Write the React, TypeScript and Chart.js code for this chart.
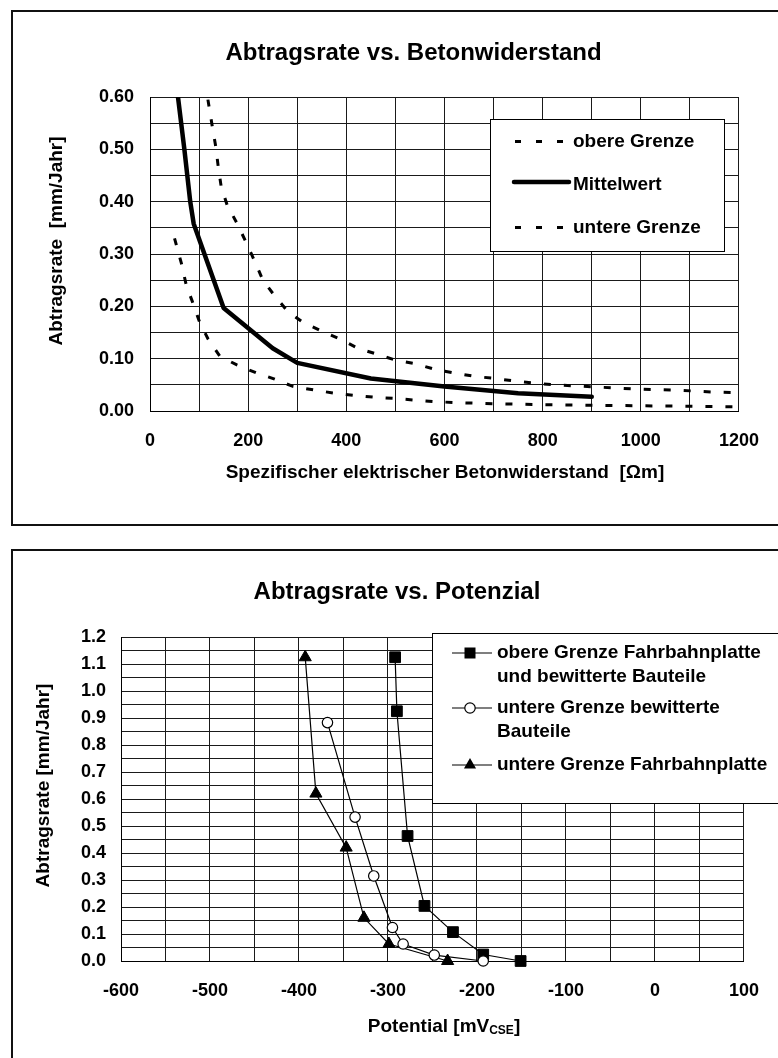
import React, { useEffect, useRef } from 'react';
import { Chart, registerables } from 'chart.js';

Chart.register(...registerables);

const FONT = '"Liberation Sans", Arial, Helvetica, sans-serif';

// ---------- Chart 1: Abtragsrate vs. Betonwiderstand ----------
const resistanceTitle = 'Abtragsrate vs. Betonwiderstand';
const resistanceXTitle = 'Spezifischer elektrischer Betonwiderstand  [Ωm]';
const resistanceYTitle = 'Abtragsrate  [mm/Jahr]';
const resistanceXTickLabels = ['0', '200', '400', '600', '800', '1000', '1200'];
const resistanceYTickLabels = ['0.00', '0.10', '0.20', '0.30', '0.40', '0.50', '0.60'];
const resistanceSeriesNames = ['obere Grenze', 'Mittelwert', 'untere Grenze'];

const upperX = [118, 127, 134, 139, 145, 157, 177, 195, 212, 230, 254, 281, 311, 349, 386, 423, 461, 501, 542, 579, 623, 663, 704, 745, 786, 822, 867, 907, 948, 989, 1030, 1070, 1111, 1151, 1200];
const upperY = [0.595, 0.543, 0.505, 0.467, 0.429, 0.394, 0.359, 0.324, 0.289, 0.25, 0.22, 0.19, 0.17, 0.153, 0.138, 0.12, 0.109, 0.097, 0.09, 0.08, 0.072, 0.066, 0.062, 0.057, 0.053, 0.05, 0.048, 0.046, 0.044, 0.042, 0.041, 0.04, 0.038, 0.036, 0.035];

const meanX = [57, 70, 82, 89, 150, 250, 300, 450, 600, 750, 900];
const meanY = [0.6, 0.5, 0.4, 0.358, 0.197, 0.12, 0.092, 0.062, 0.047, 0.034, 0.027];

const lowerX = [50, 64, 74, 86, 101, 118, 142, 177, 216, 254, 291, 335, 376, 416, 460, 500, 538, 579, 623, 700, 800, 900, 1000, 1100, 1200];
const lowerY = [0.33, 0.282, 0.24, 0.21, 0.17, 0.138, 0.105, 0.088, 0.073, 0.061, 0.047, 0.04, 0.034, 0.03, 0.026, 0.024, 0.021, 0.018, 0.016, 0.014, 0.012, 0.011, 0.01, 0.009, 0.008];

// ---------- Chart 2: Abtragsrate vs. Potenzial ----------
const potentialTitle = 'Abtragsrate vs. Potenzial';
const potentialYTitle = 'Abtragsrate [mm/Jahr]';
const potentialXTickLabels = ['-600', '-500', '-400', '-300', '-200', '-100', '0', '100'];
const potentialYTickLabels = ['0.0', '0.1', '0.2', '0.3', '0.4', '0.5', '0.6', '0.7', '0.8', '0.9', '1.0', '1.1', '1.2'];
const potentialSeriesNames = [
  ['obere Grenze Fahrbahnplatte', 'und bewitterte Bauteile'],
  ['untere Grenze bewitterte', 'Bauteile'],
  ['untere Grenze Fahrbahnplatte'],
];

const obereX = [-292, -290, -278, -259, -227, -193, -151];
const obereY = [1.125, 0.925, 0.463, 0.204, 0.107, 0.024, 0.0];

const bewitterteX = [-368, -337, -316, -295, -283, -248, -193];
const bewitterteY = [0.883, 0.533, 0.315, 0.124, 0.063, 0.022, 0.0];

const fahrbahnX = [-393, -381, -347, -327, -299, -233];
const fahrbahnY = [1.125, 0.62, 0.42, 0.16, 0.063, 0.0];

const pts = (xs: number[], ys: number[]) => xs.map((x, i) => ({ x, y: ys[i] }));

const near = (a: number, b: number) => Math.abs(a - b) < 1e-6;

const tickFont = { family: FONT, size: 18, weight: 'bold' as const };

function labelFrom(list: string[]) {
  return (v: number | string) => {
    const n = Number(v);
    const hit = list.find((s) => near(Number(s), n));
    return hit === undefined ? '' : hit;
  };
}

function drawRotated(ctx: CanvasRenderingContext2D, text: string, x: number, y: number) {
  ctx.save();
  ctx.translate(x, y);
  ctx.rotate(-Math.PI / 2);
  ctx.fillText(text, 0, 0);
  ctx.restore();
}

const topOverlay = {
  id: 'topOverlay',
  afterDraw(chart: any) {
    const ctx: CanvasRenderingContext2D = chart.ctx;
    ctx.save();
    ctx.fillStyle = '#000';
    ctx.textAlign = 'center';
    ctx.textBaseline = 'middle';
    ctx.font = `bold 24px ${FONT}`;
    ctx.fillText(resistanceTitle, 413.5, 53);
    ctx.font = `bold 19px ${FONT}`;
    ctx.fillText(resistanceXTitle, 445, 473);
    drawRotated(ctx, resistanceYTitle, 57, 241);

    // legend box
    ctx.fillStyle = '#fff';
    ctx.fillRect(490, 119, 234, 132);
    ctx.strokeStyle = '#000';
    ctx.lineWidth = 1;
    ctx.strokeRect(490.5, 119.5, 234, 132);

    const rows = [141.5, 182, 227.5];
    ctx.fillStyle = '#000';
    // dashed samples
    [rows[0], rows[2]].forEach((y) => {
      [515, 536, 557].forEach((x) => ctx.fillRect(x, y - 1.5, 6, 3));
    });
    // solid sample
    ctx.beginPath();
    ctx.lineWidth = 4.5;
    ctx.lineCap = 'round';
    ctx.moveTo(514, rows[1]);
    ctx.lineTo(569, rows[1]);
    ctx.stroke();

    ctx.font = `bold 19px ${FONT}`;
    ctx.textAlign = 'left';
    ctx.fillText(resistanceSeriesNames[0], 573, 142);
    ctx.fillText(resistanceSeriesNames[1], 573, 184.5);
    ctx.fillText(resistanceSeriesNames[2], 573, 228);
    ctx.restore();
  },
};

const bottomOverlay = {
  id: 'bottomOverlay',
  afterDraw(chart: any) {
    const ctx: CanvasRenderingContext2D = chart.ctx;
    const oy = 538;
    ctx.save();
    ctx.fillStyle = '#000';
    ctx.textAlign = 'center';
    ctx.textBaseline = 'middle';
    ctx.font = `bold 24px ${FONT}`;
    ctx.fillText(potentialTitle, 397, 592.5 - oy);
    ctx.font = `bold 19px ${FONT}`;
    drawRotated(ctx, potentialYTitle, 44, 785.5 - oy);

    // x title with subscript
    const main = 'Potential [mV';
    const sub = 'CSE';
    const end = ']';
    ctx.font = `bold 19px ${FONT}`;
    const wMain = ctx.measureText(main).width;
    const wEnd = ctx.measureText(end).width;
    ctx.font = `bold 12px ${FONT}`;
    const wSub = ctx.measureText(sub).width;
    const total = wMain + wSub + wEnd;
    let x = 444 - total / 2;
    const y = 1027 - oy;
    ctx.textAlign = 'left';
    ctx.font = `bold 19px ${FONT}`;
    ctx.fillText(main, x, y);
    x += wMain;
    ctx.font = `bold 12px ${FONT}`;
    ctx.fillText(sub, x, y + 4);
    x += wSub;
    ctx.font = `bold 19px ${FONT}`;
    ctx.fillText(end, x, y);

    // legend box
    ctx.fillStyle = '#fff';
    ctx.fillRect(432, 633 - oy, 400, 170);
    ctx.strokeStyle = '#000';
    ctx.lineWidth = 1;
    ctx.strokeRect(432.5, 633.5 - oy, 400, 170);

    const rowY = [653 - oy, 708 - oy, 765 - oy];
    ctx.lineWidth = 1.2;
    rowY.forEach((ry, i) => {
      ctx.strokeStyle = '#000';
      ctx.beginPath();
      ctx.moveTo(452, ry);
      ctx.lineTo(492, ry);
      ctx.stroke();
      if (i === 0) {
        ctx.fillStyle = '#000';
        ctx.fillRect(470 - 5.5, ry - 5.5, 11, 11);
      } else if (i === 1) {
        ctx.beginPath();
        ctx.arc(470, ry, 5.2, 0, Math.PI * 2);
        ctx.fillStyle = '#fff';
        ctx.fill();
        ctx.stroke();
      } else {
        const r = 7;
        ctx.beginPath();
        ctx.moveTo(470, ry - r);
        ctx.lineTo(470 + r * Math.sin((2 * Math.PI) / 3), ry - r * Math.cos((2 * Math.PI) / 3));
        ctx.lineTo(470 + r * Math.sin((4 * Math.PI) / 3), ry - r * Math.cos((4 * Math.PI) / 3));
        ctx.closePath();
        ctx.fillStyle = '#000';
        ctx.fill();
      }
    });

    ctx.fillStyle = '#000';
    ctx.textAlign = 'left';
    ctx.font = `bold 19px ${FONT}`;
    const textRows = [
      [653, 677],
      [708, 732],
      [765],
    ];
    potentialSeriesNames.forEach((lines, i) => {
      lines.forEach((t, j) => ctx.fillText(t, 497, textRows[i][j] - oy));
    });
    ctx.restore();
  },
};

export default function App() {
  const topRef = useRef<HTMLCanvasElement | null>(null);
  const botRef = useRef<HTMLCanvasElement | null>(null);

  useEffect(() => {
    const gridColor = '#1a1a1a';
    const dashed = {
      showLine: true,
      borderColor: '#000',
      borderWidth: 3,
      borderDash: [7, 13],
      pointRadius: 0,
      fill: false,
      tension: 0,
    };
    const top = new Chart(topRef.current as HTMLCanvasElement, {
      type: 'scatter',
      data: {
        datasets: [
          { label: resistanceSeriesNames[0], data: pts(upperX, upperY), ...dashed },
          {
            label: resistanceSeriesNames[1],
            data: pts(meanX, meanY),
            showLine: true,
            borderColor: '#000',
            borderWidth: 4.5,
            borderJoinStyle: 'round',
            borderCapStyle: 'round',
            pointRadius: 0,
            fill: false,
            tension: 0,
          },
          { label: resistanceSeriesNames[2], data: pts(lowerX, lowerY), ...dashed },
        ] as any,
      },
      options: {
        animation: false,
        responsive: false,
        devicePixelRatio: 1,
        events: [],
        layout: { padding: { left: 50, top: 97, right: 37, bottom: 67 } },
        plugins: { legend: { display: false }, title: { display: false }, tooltip: { enabled: false } },
        scales: {
          x: {
            type: 'linear',
            min: 0,
            max: 1200,
            ticks: { stepSize: 100, autoSkip: false, maxRotation: 0, padding: 19, color: '#000', font: tickFont, callback: labelFrom(resistanceXTickLabels) },
            grid: { color: gridColor, lineWidth: 1, drawTicks: false },
            border: { display: true, color: '#000', width: 1 },
            afterFit: (s: any) => { s.height = 60; },
          },
          y: {
            type: 'linear',
            min: 0,
            max: 0.6,
            ticks: { stepSize: 0.05, autoSkip: false, padding: 16, color: '#000', font: tickFont, callback: labelFrom(resistanceYTickLabels) },
            grid: { color: gridColor, lineWidth: 1, drawTicks: false },
            border: { display: true, color: '#000', width: 1 },
            afterFit: (s: any) => { s.width = 100; },
          },
        },
      } as any,
      plugins: [topOverlay],
    });

    const bottom = new Chart(botRef.current as HTMLCanvasElement, {
      type: 'scatter',
      data: {
        datasets: [
          {
            label: potentialSeriesNames[0].join(' '),
            data: pts(obereX, obereY),
            showLine: true,
            borderColor: '#000',
            borderWidth: 1.2,
            pointStyle: 'rect',
            pointRadius: 7.6,
            pointBackgroundColor: '#000',
            pointBorderColor: '#000',
            pointBorderWidth: 1,
            clip: false,
            order: 3,
          },
          {
            label: potentialSeriesNames[1].join(' '),
            data: pts(bewitterteX, bewitterteY),
            showLine: true,
            borderColor: '#000',
            borderWidth: 1.2,
            pointStyle: 'circle',
            pointRadius: 5.2,
            pointBackgroundColor: '#fff',
            pointBorderColor: '#000',
            pointBorderWidth: 1.2,
            clip: false,
            order: 1,
          },
          {
            label: potentialSeriesNames[2].join(' '),
            data: pts(fahrbahnX, fahrbahnY),
            showLine: true,
            borderColor: '#000',
            borderWidth: 1.2,
            pointStyle: 'triangle',
            pointRadius: 7,
            pointBackgroundColor: '#000',
            pointBorderColor: '#000',
            pointBorderWidth: 1,
            clip: false,
            order: 2,
          },
        ] as any,
      },
      options: {
        animation: false,
        responsive: false,
        devicePixelRatio: 1,
        events: [],
        layout: { padding: { left: 21, top: 99, right: 24, bottom: 37 } },
        plugins: { legend: { display: false }, title: { display: false }, tooltip: { enabled: false } },
        scales: {
          x: {
            type: 'linear',
            min: -600,
            max: 100,
            ticks: { stepSize: 50, autoSkip: false, maxRotation: 0, padding: 19, color: '#000', font: tickFont, callback: labelFrom(potentialXTickLabels) },
            grid: { color: gridColor, lineWidth: 1, drawTicks: false },
            border: { display: true, color: '#000', width: 1 },
            afterFit: (s: any) => { s.height = 60; },
          },
          y: {
            type: 'linear',
            min: 0,
            max: 1.2,
            ticks: { stepSize: 0.05, autoSkip: false, padding: 15, color: '#000', font: tickFont, callback: labelFrom(potentialYTickLabels) },
            grid: { color: gridColor, lineWidth: 1, drawTicks: false },
            border: { display: true, color: '#000', width: 1 },
            afterFit: (s: any) => { s.width = 100; },
          },
        },
      } as any,
      plugins: [bottomOverlay],
    });

    return () => {
      top.destroy();
      bottom.destroy();
    };
  }, []);

  return (
    <div style={{ position: 'absolute', left: 0, top: 0, width: 778, height: 1058, overflow: 'hidden', background: '#fff' }}>
      <div style={{ position: 'absolute', left: 11, top: 10, width: 900, height: 512, border: '2px solid #111' }} />
      <div style={{ position: 'absolute', left: 11, top: 549, width: 900, height: 700, border: '2px solid #111' }} />
      <canvas ref={topRef} width={778} height={538} style={{ position: 'absolute', left: 0, top: 0 }} />
      <canvas ref={botRef} width={778} height={520} style={{ position: 'absolute', left: 0, top: 538 }} />
    </div>
  );
}
